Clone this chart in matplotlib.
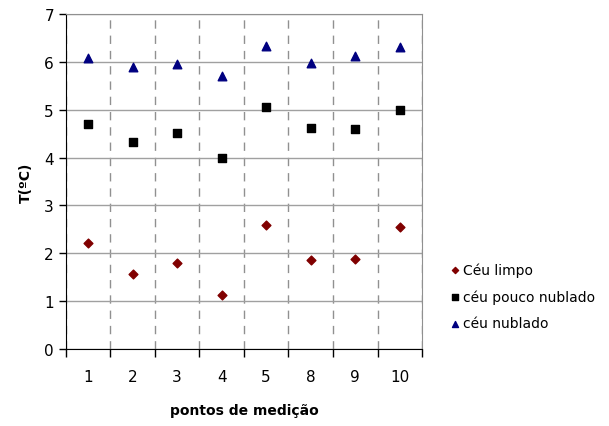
import numpy as np
import matplotlib.pyplot as plt

pontos = ['1', '2', '3', '4', '5', '8', '9', '10']
ceu_limpo = [2.21, 1.57, 1.80, 1.13, 2.59, 1.86, 1.88, 2.55]
ceu_pouco_nublado = [4.70, 4.32, 4.51, 3.99, 5.05, 4.62, 4.60, 4.99]
ceu_nublado = [6.08, 5.89, 5.95, 5.70, 6.33, 5.98, 6.12, 6.31]

plt.rcParams['font.family'] = 'DejaVu Sans'

fig = plt.figure(figsize=(6.09, 4.27), dpi=100)
ax = fig.add_axes([0.108, 0.180, 0.585, 0.785])

x = np.arange(len(pontos))
ax.scatter(x, ceu_limpo, marker='D', s=20, color='#800000', label='Céu limpo', zorder=3)
ax.scatter(x, ceu_pouco_nublado, marker='s', s=32, color='black', label='céu pouco nublado', zorder=3)
ax.scatter(x, ceu_nublado, marker='^', s=38, color='#000080', label='céu nublado', zorder=3)

ax.set_xlim(-0.5, len(pontos) - 0.5)
ax.set_ylim(0, 7)
ax.set_yticks(range(0, 8))

# ticks at category boundaries, labels at centers
ax.set_xticks(np.arange(-0.5, len(pontos)))
ax.set_xticklabels([])
ax.set_xticks(x, minor=True)
ax.set_xticklabels(pontos, minor=True)
ax.tick_params(axis='x', which='major', length=6, width=1, direction='out')
ax.tick_params(axis='x', which='minor', length=0, pad=14, labelsize=11)
ax.tick_params(axis='y', length=5, width=1, labelsize=11)

ax.grid(axis='y', color='#a0a0a0', linewidth=1)
ax.grid(axis='x', which='major', color='#909090', linestyle=(0, (6, 5)), linewidth=1)
ax.set_axisbelow(True)

ax.spines['top'].set_color('#909090')
ax.spines['right'].set_color('#909090')
ax.spines['left'].set_color('black')
ax.spines['bottom'].set_color('black')

ax.set_xlabel('pontos de medição', fontweight='bold', fontsize=10, labelpad=14)
ax.set_ylabel('T(ºC)', fontweight='bold', fontsize=10, labelpad=8)

fig.legend(loc='upper left', bbox_to_anchor=(0.715, 0.413), frameon=False,
           fontsize=10, handletextpad=0.1, labelspacing=0.9, markerscale=0.7,
           handlelength=1.0)

plt.savefig('out.png', dpi=100)
